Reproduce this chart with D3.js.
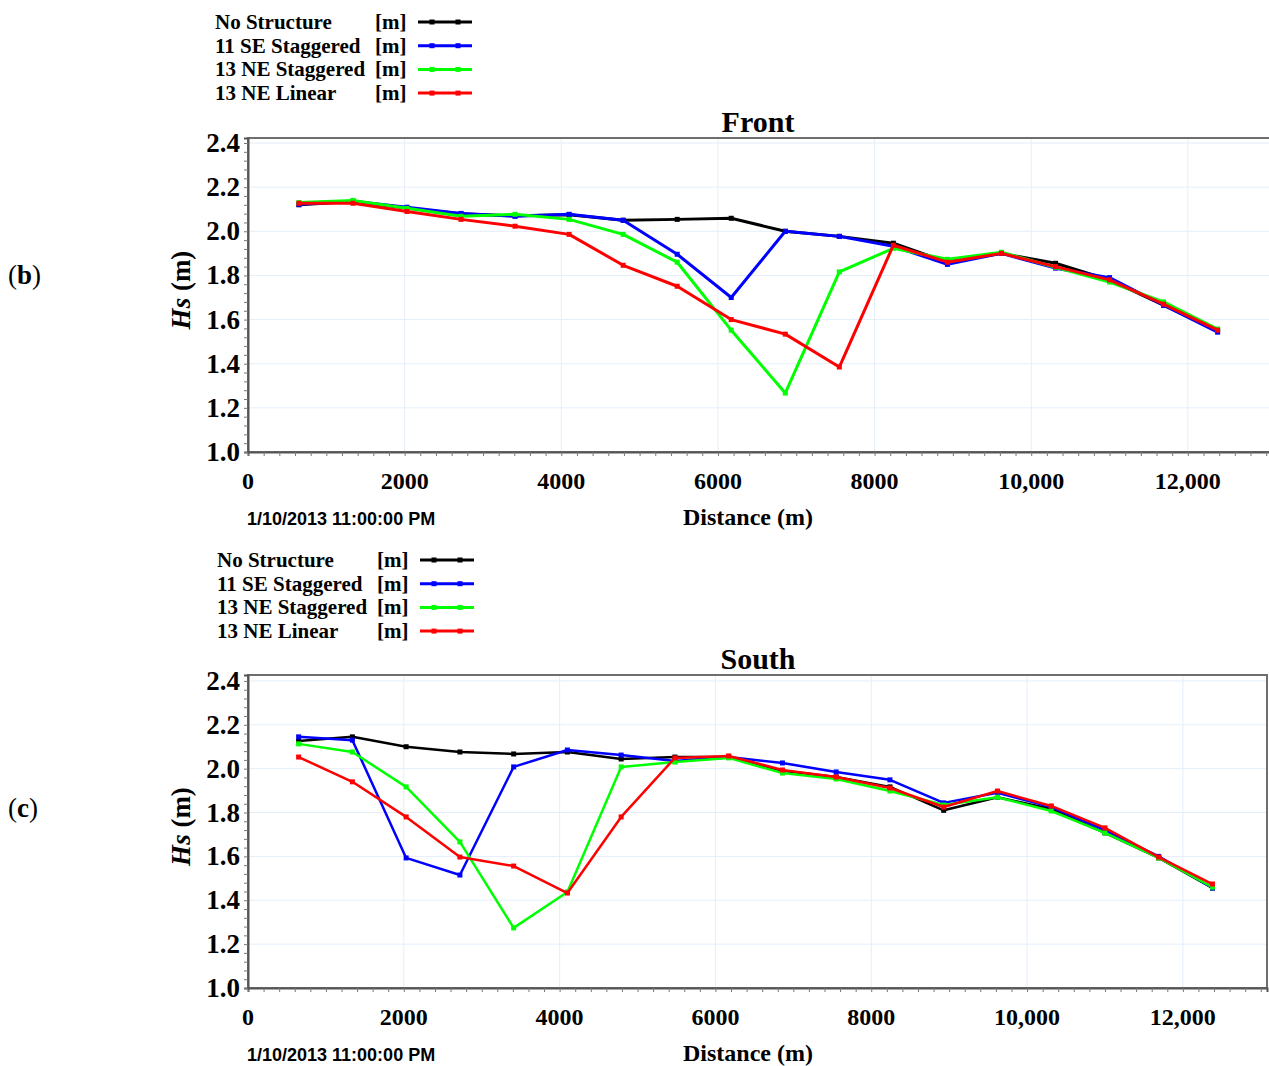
<!DOCTYPE html>
<html>
<head>
<meta charset="utf-8">
<script src="https://cdn.jsdelivr.net/npm/d3@7"></script>
<style>
  body { margin: 0; background: #fff; }
  svg { display: block; }
</style>
</head>
<body>
<svg id="chart" width="1269" height="1066"></svg>
<script>
// distances of the output points along the transect (m)
const distance = [650, 1340, 2030, 2720, 3410, 4100, 4790, 5480, 6170, 6860, 7550, 8240, 8930, 9620, 10310, 11000, 11690, 12380]

const seriesNames = ['No Structure', '11 SE Staggered', '13 NE Staggered', '13 NE Linear']
const seriesColors = ['#000000', '#0000ff', '#00ff00', '#ff0000']

// Front panel (b)
const frontNoStructure = [2.12, 2.135, 2.105, 2.08, 2.07, 2.075, 2.05, 2.054, 2.059, 2.0, 1.977, 1.946, 1.86, 1.90, 1.855, 1.78, 1.665, 1.55]
const frontSEStaggered = [2.122, 2.136, 2.109, 2.081, 2.068, 2.077, 2.05, 1.896, 1.70, 2.0, 1.977, 1.932, 1.85, 1.90, 1.833, 1.79, 1.665, 1.543]
const frontNEStaggered = [2.13, 2.14, 2.104, 2.068, 2.077, 2.054, 1.986, 1.86, 1.552, 1.267, 1.816, 1.923, 1.873, 1.905, 1.837, 1.77, 1.68, 1.557]
const frontNELinear = [2.127, 2.127, 2.09, 2.054, 2.023, 1.986, 1.846, 1.751, 1.60, 1.534, 1.385, 1.937, 1.86, 1.90, 1.84, 1.78, 1.67, 1.552]

// South panel (c)
const southNoStructure = [2.126, 2.145, 2.10, 2.076, 2.067, 2.076, 2.044, 2.053, 2.053, 1.99, 1.962, 1.917, 1.81, 1.87, 1.816, 1.707, 1.593, 1.456]
const southSEStaggered = [2.145, 2.13, 1.593, 1.515, 2.008, 2.085, 2.062, 2.035, 2.053, 2.026, 1.985, 1.949, 1.844, 1.89, 1.825, 1.72, 1.60, 1.456]
const southNEStaggered = [2.113, 2.076, 1.917, 1.666, 1.274, 1.438, 2.008, 2.03, 2.049, 1.98, 1.953, 1.898, 1.834, 1.87, 1.807, 1.707, 1.593, 1.46]
const southNELinear = [2.053, 1.94, 1.78, 1.597, 1.556, 1.433, 1.78, 2.049, 2.058, 1.994, 1.962, 1.912, 1.825, 1.898, 1.83, 1.73, 1.597, 1.474]

const yTicks = [1.0, 1.2, 1.4, 1.6, 1.8, 2.0, 2.2, 2.4]
const xTicks = [0, 2000, 4000, 6000, 8000, 10000, 12000]
const xTickLabels = ['0', '2000', '4000', '6000', '8000', '10,000', '12,000']
const timeStamp = '1/10/2013 11:00:00 PM'

const serif = '"Liberation Serif", "Times New Roman", serif'
const sans = '"Liberation Sans", Arial, sans-serif'

const svg = d3.select('#chart')

const panels = [
    {
        tag: 'b', title: 'Front',
        series: [frontNoStructure, frontSEStaggered, frontNEStaggered, frontNELinear],
        legendX: 215, legendY: 22,
        left: 248, right: 1274, top: 138, bottom: 452,
        xMax: 13100, yMax: 2.4227,
        tagY: 275, lineWidth: 3
    },
    {
        tag: 'c', title: 'South',
        series: [southNoStructure, southSEStaggered, southNEStaggered, southNELinear],
        legendX: 217, legendY: 560,
        left: 248, right: 1267, top: 675, bottom: 988,
        xMax: 13080, yMax: 2.427,
        tagY: 808, lineWidth: 2.5
    }
]

const drawPanel = (p) => {
    const g = svg.append('g')

    const x = d3.scaleLinear().domain([0, p.xMax]).range([p.left, p.right])
    const y = d3.scaleLinear().domain([1.0, p.yMax]).range([p.bottom, p.top])

    // legend
    seriesNames.forEach((name, i) => {
        const ly = p.legendY + i * 23.7
        g.append('text')
            .attr('x', p.legendX).attr('y', ly + 7)
            .style('font-family', serif).style('font-weight', 'bold').style('font-size', '21px')
            .text(name)
        g.append('text')
            .attr('x', p.legendX + 160).attr('y', ly + 7)
            .style('font-family', serif).style('font-weight', 'bold').style('font-size', '21px')
            .text('[m]')
        g.append('line')
            .attr('x1', p.legendX + 203).attr('x2', p.legendX + 257)
            .attr('y1', ly).attr('y2', ly)
            .attr('stroke', seriesColors[i]).attr('stroke-width', 3)
        ;[p.legendX + 217, p.legendX + 243].forEach(mx => {
            g.append('rect')
                .attr('x', mx - 2.5).attr('y', ly - 2.5)
                .attr('width', 5).attr('height', 5)
                .attr('fill', seriesColors[i])
        })
    })

    // panel tag
    const tag = g.append('text')
        .attr('x', 8).attr('y', p.tagY + 9)
        .style('font-family', serif).style('font-size', '27px')
    tag.append('tspan').text('(')
    tag.append('tspan').style('font-weight', 'bold').text(p.tag)
    tag.append('tspan').text(')')

    // title
    g.append('text')
        .attr('x', 758).attr('y', p.top - 6)
        .attr('text-anchor', 'middle')
        .style('font-family', serif).style('font-weight', 'bold').style('font-size', '30px')
        .text(p.title)

    // grid
    g.append('g')
        .selectAll('line')
        .data(xTicks.slice(1))
        .join('line')
        .attr('x1', d => x(d)).attr('x2', d => x(d))
        .attr('y1', p.top).attr('y2', p.bottom)
        .attr('stroke', '#e4eefa').attr('stroke-width', 1)
    g.append('g')
        .selectAll('line')
        .data(yTicks.slice(1))
        .join('line')
        .attr('x1', p.left).attr('x2', p.right)
        .attr('y1', d => y(d)).attr('y2', d => y(d))
        .attr('stroke', '#e4eefa').attr('stroke-width', 1)

    // frame
    g.append('rect')
        .attr('x', p.left).attr('y', p.top)
        .attr('width', p.right - p.left).attr('height', p.bottom - p.top)
        .attr('fill', 'none').attr('stroke', '#6e6e6e').attr('stroke-width', 2)

    // x axis with minor ticks
    const xAxis = g.append('g')
        .attr('transform', `translate(0,${p.bottom})`)
        .call(d3.axisBottom(x).tickValues(d3.range(0, p.xMax, 200)).tickSize(4).tickFormat(''))
    xAxis.select('.domain').attr('stroke', '#555').attr('stroke-width', 2)
    xAxis.selectAll('.tick line').attr('stroke', '#777')

    g.append('g')
        .selectAll('text')
        .data(xTicks)
        .join('text')
        .attr('x', d => x(d)).attr('y', p.bottom + 37)
        .attr('text-anchor', 'middle')
        .style('font-family', serif).style('font-weight', 'bold').style('font-size', '24px')
        .text((d, i) => xTickLabels[i])

    // y axis with minor ticks
    const yAxis = g.append('g')
        .attr('transform', `translate(${p.left},0)`)
        .call(d3.axisLeft(y).tickValues(d3.range(1.0, p.yMax, 0.04)).tickSize(4).tickFormat(''))
    yAxis.select('.domain').attr('stroke', '#555').attr('stroke-width', 2)
    yAxis.selectAll('.tick line').attr('stroke', '#777')

    g.append('g')
        .selectAll('text')
        .data(yTicks)
        .join('text')
        .attr('x', p.left - 8).attr('y', d => y(d) + 9)
        .attr('text-anchor', 'end')
        .style('font-family', serif).style('font-weight', 'bold').style('font-size', '27px')
        .text(d => d.toFixed(1))

    // y label
    const yl = g.append('text')
        .attr('transform', `translate(190,${(p.top + p.bottom) / 2 - 5}) rotate(-90)`)
        .attr('text-anchor', 'middle')
        .style('font-family', serif).style('font-weight', 'bold').style('font-size', '27px')
    yl.append('tspan').style('font-style', 'italic').text('Hs')
    yl.append('tspan').text(' (m)')

    // x label and time stamp
    g.append('text')
        .attr('x', 748).attr('y', p.bottom + 73)
        .attr('text-anchor', 'middle')
        .style('font-family', serif).style('font-weight', 'bold').style('font-size', '24px')
        .text('Distance (m)')
    g.append('text')
        .attr('x', p.left - 1).attr('y', p.bottom + 73)
        .style('font-family', sans).style('font-weight', 'bold').style('font-size', '18px')
        .text(timeStamp)

    // series
    const line = d3.line()
        .x((d, i) => x(distance[i]))
        .y(d => y(d))

    p.series.forEach((vals, s) => {
        g.append('path')
            .datum(vals)
            .attr('fill', 'none')
            .attr('stroke', seriesColors[s])
            .attr('stroke-width', p.lineWidth)
            .attr('stroke-linejoin', 'round')
            .attr('d', line)
        g.append('g')
            .selectAll('rect')
            .data(vals)
            .join('rect')
            .attr('x', (d, i) => x(distance[i]) - 2.5)
            .attr('y', d => y(d) - 2.5)
            .attr('width', 5).attr('height', 5)
            .attr('fill', seriesColors[s])
    })
}

panels.forEach(drawPanel)
</script>
</body>
</html>
